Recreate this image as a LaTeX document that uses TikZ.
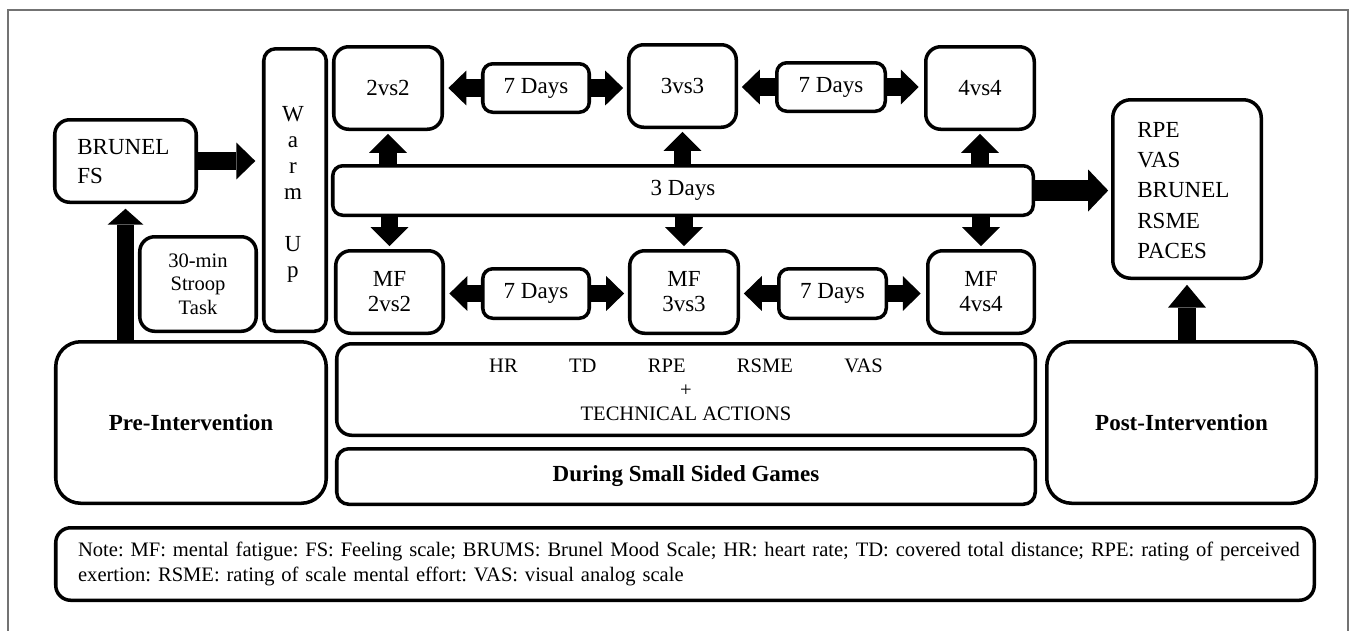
\documentclass[tikz,border=0pt]{standalone}
\usepackage{fontspec}
\setmainfont{Liberation Serif}
\usetikzlibrary{arrows.meta}
\frenchspacing
\begin{document}
\begin{tikzpicture}[x=0.02cm, y=-0.02cm,
  box/.style={draw, line width=2pt, rounded corners=#1, inner sep=0pt, align=center,
              font=\fontsize{13.1}{14.2}\selectfont},
  box/.default=8.5pt,
  sz/.style 2 args={minimum width=#1*0.02cm, minimum height=#2*0.02cm},
  lbl/.style={inner sep=0pt, align=left, font=\fontsize{13.1}{#1}\selectfont},
  lbl/.default=14.2pt,
  boldtext/.style={font=\fontsize{13.1}{14.2}\selectfont\bfseries},
  smalltext/.style={font=\fontsize{11.7}{#1}\selectfont},
  smalltext/.default=13.7pt,
  blk/.style n args={3}{line width=#1, -{Triangle[width=#2, length=#3, line width=0pt]}},
]
\useasboundingbox (0,0) rectangle (1363,630);
\draw[line width=0.8pt, black!55] (8,632) |- (1348,10) -- (1348,632);

% pre-intervention column
\node[box=14.2pt, sz={270.5}{161.5}, boldtext] (pre) at (191,422.5) {Pre-Intervention};
\node[box, sz={141.5}{82.5}] (brunel) at (125.5,161) {};
\node[lbl=16.5pt, anchor=west] (brunelt) at (77,162) {BRUNEL\\FS};
\node[box, sz={116.5}{94.5}, smalltext=13.4pt] (stroop) at (198,284) {30-min\\Stroop\\Task};
\node[box=6.8pt, sz={62.5}{282.5}] (warm) at (295,190) {};
\node[lbl=14.8pt, align=center] (warmt) at (293,194) {W\\a\\r\\m\\[14.8pt]U\\p};

% small sided games
\node[box, sz={108.5}{82.5}] (t2) at (388,88) {2vs2};
\node[box, sz={107.5}{82.5}] (t3) at (682.5,86) {3vs3};
\node[box, sz={108.5}{82.5}] (t4) at (980,88) {4vs4};
\node[box=5.7pt, sz={106.5}{48.5}] (da) at (536,88) {7 Days};
\node[box=5.7pt, sz={108.5}{48.5}] (db) at (831,87) {7 Days};
\node[box=5.7pt, sz={700.5}{49.5}] (bar) at (683,190.5) {3 Days};
\node[box, sz={107.5}{82.5}] (m2) at (389.5,292) {MF\\2vs2};
\node[box, sz={108.5}{82.5}] (m3) at (684,292) {MF\\3vs3};
\node[box, sz={106.5}{82.5}] (m4) at (981,292) {MF\\4vs4};
\node[box=5.7pt, sz={106.5}{49.5}] (dc) at (536,293.5) {7 Days};
\node[box=5.7pt, sz={107.5}{49.5}] (dd) at (832.5,293.5) {7 Days};
\node[box, sz={698.5}{91.5}, smalltext] (meas) at (686,389.5)
  {HR\hspace{2.5em}TD\hspace{2.5em}RPE\hspace{2.5em}RSME\hspace{2.5em}VAS\\+\\TECHNICAL ACTIONS};
\node[box=6.8pt, sz={698.5}{55.5}, boldtext] (ssg) at (686,476.5) {During Small Sided Games};

% post-intervention column
\node[box=14.2pt, sz={269.5}{161.5}, boldtext] (post) at (1181.5,422.5) {Post-Intervention};
\node[box=10.2pt, sz={148.5}{178.5}] (rpe) at (1187,189) {};
\node[lbl=17.2pt, anchor=west] (rpet) at (1137,190.5) {RPE\\VAS\\BRUNEL\\RSME\\PACES};

% abbreviations
\node[box, sz={1258.5}{72.5}, smalltext=14.2pt, text width=24.28cm, align=left] (note) at (685,564)
  {\makebox[\linewidth][s]{Note: MF: mental fatigue: FS: Feeling scale; BRUMS: Brunel Mood Scale; HR: heart rate; TD: covered total distance; RPE: rating of perceived}\\
   exertion: RSME: rating of scale mental effort: VAS: visual analog scale};

% block arrows
\draw[blk={9.7pt}{20.5pt}{9.1pt}, shorten >=2.7pt] (brunel.south |- pre.north) -- (brunel.south);
\draw[blk={10.8pt}{21pt}{10.8pt}, shorten >=3.8pt] (brunel.east) -- (brunel.east -| warm.west);
\foreach \n in {t2,t3,t4}
  \draw[blk={10.2pt}{21.6pt}{10.8pt}, shorten >=1.6pt] (\n.south |- bar.north) -- (\n.south);
\foreach \n in {m2,m3,m4}
  \draw[blk={10.2pt}{21.6pt}{10.8pt}, shorten >=1.6pt] (\n.north |- bar.south) -- (\n.north);
\draw[blk={9.7pt}{19.9pt}{10.2pt}, shorten >=2.5pt] (da.west) -- (da.west -| t2.east);
\draw[blk={9.7pt}{19.9pt}{10.2pt}, shorten >=2.2pt] (da.east) -- (da.east -| t3.west);
\draw[blk={9.7pt}{19.9pt}{10.2pt}, shorten >=2.2pt] (db.west) -- (db.west -| t3.east);
\draw[blk={9.7pt}{19.9pt}{10.2pt}, shorten >=3pt] (db.east) -- (db.east -| t4.west);
\draw[blk={9.7pt}{19.9pt}{10.2pt}, shorten >=2.5pt] (dc.west) -- (dc.west -| m2.east);
\draw[blk={9.7pt}{19.9pt}{10.2pt}, shorten >=2.2pt] (dc.east) -- (dc.east -| m3.west);
\draw[blk={9.7pt}{19.9pt}{10.2pt}, shorten >=2.2pt] (dd.west) -- (dd.west -| m3.east);
\draw[blk={9.7pt}{19.9pt}{10.2pt}, shorten >=3pt] (dd.east) -- (dd.east -| m4.west);
\draw[blk={11.4pt}{23.9pt}{11.4pt}, shorten >=1.6pt] (bar.east) -- (bar.east -| rpe.west);
\draw[blk={9.7pt}{21.6pt}{13pt}, shorten >=2.7pt] (rpe.south |- post.north) -- (rpe.south);
\end{tikzpicture}
\end{document}
